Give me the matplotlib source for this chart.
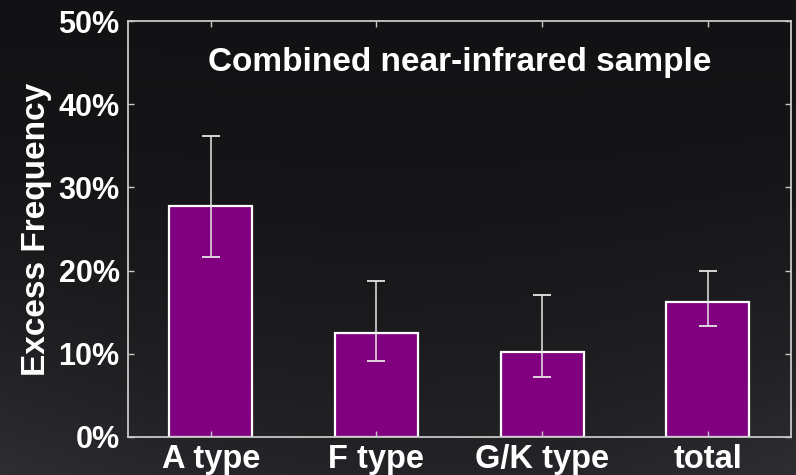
import matplotlib.pyplot as plt
import numpy as np

# значения избытка излучения по спектральным классам, %
labels = ['A type', 'F type', 'G/K type', 'total']
freq = [27.8, 12.5, 10.2, 16.2]
err_hi = [36.2, 18.8, 17.1, 20.0]
err_lo = [21.6, 9.1, 7.2, 13.4]

plt.rcParams['font.family'] = ['Liberation Sans', 'DejaVu Sans']
plt.rcParams['font.weight'] = 'bold'

fig = plt.figure(figsize=(7.96, 4.75), dpi=100)

# тёмный фон с лёгким градиентом к низу
bg = fig.add_axes([0, 0, 1, 1], zorder=-10)
yy, xx = np.mgrid[0:1:200j, 0:1:300j]
shade = 0.075 + 0.07 * yy ** 2 + 0.04 * (yy * np.abs(xx - 0.5) * 2) ** 2
img = np.dstack([shade * 0.98, shade * 0.96, shade * 1.06])
bg.imshow(np.clip(img, 0, 1), aspect='auto', extent=[0, 1, 0, 1], origin='upper')
bg.axis('off')

ax = fig.add_axes([0.1608, 0.08, 0.8325, 0.8756])
ax.patch.set_alpha(0)

x = np.arange(len(labels))
y = np.array(freq)
yerr = [y - np.array(err_lo), np.array(err_hi) - y]
ax.bar(x, y, width=0.5, color='#800080', edgecolor='white', linewidth=1.6)
ax.errorbar(x, y, yerr=yerr, fmt='none', ecolor='#e6e6e6', elinewidth=1.1,
            capsize=6.5, capthick=1.3)

ax.set_xlim(-0.5, 3.5)
ax.set_ylim(0, 50)
ax.set_yticks(range(0, 51, 10))
ax.set_yticklabels([f'{v}%' for v in range(0, 51, 10)])
ax.set_xticks(x)
ax.set_xticklabels(labels)

for s in ax.spines.values():
    s.set_color('#c8c8c8')
    s.set_linewidth(1.3)
ax.tick_params(direction='in', length=4, width=1, color='#c8c8c8',
               top=True, right=True, labelcolor='white')
ax.tick_params(axis='y', pad=6, labelsize=22)
ax.tick_params(axis='x', pad=5, labelsize=23.5)

ax.set_ylabel('Excess Frequency', color='white', fontsize=24,
              fontweight='bold', labelpad=5)
ax.text(0.5, 0.9, 'Combined near-infrared sample', transform=ax.transAxes,
        ha='center', va='center', color='white', fontsize=24)

fig.savefig('out.png', dpi=100, facecolor='#161418')
